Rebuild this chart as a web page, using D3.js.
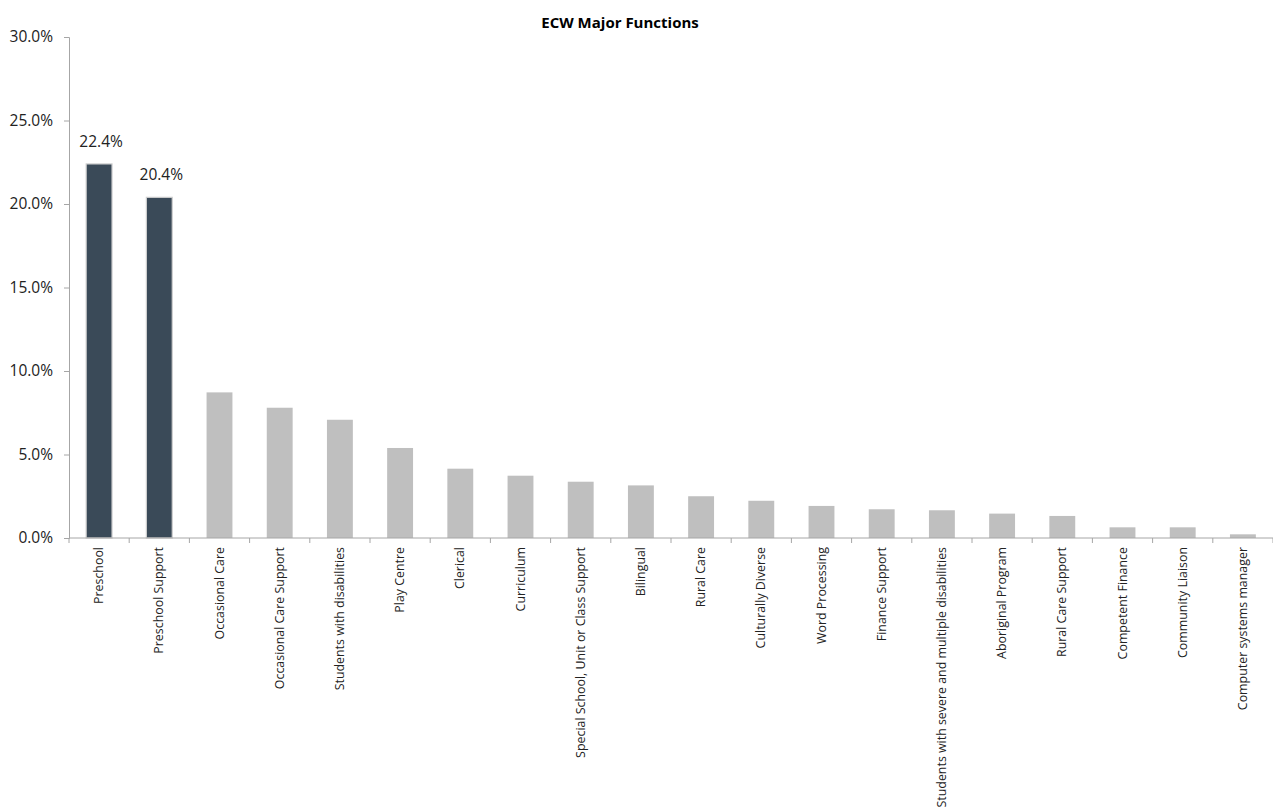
<!DOCTYPE html>
<html><head><meta charset="utf-8">
<script src="https://cdn.jsdelivr.net/npm/d3@7"></script>
<style>body{margin:0;background:#fff;}svg{display:block;font-family:"Open Sans",sans-serif;}</style>
</head><body><svg id="c" width="1273" height="810"></svg>
<script>
const categories = ["Preschool","Preschool Support","Occasional Care","Occasional Care Support","Students with disabilities","Play Centre","Clerical","Curriculum","Special School, Unit or Class Support","Bilingual","Rural Care","Culturally Diverse","Word Processing","Finance Support","Students with severe and multiple disabilities","Aboriginal Program","Rural Care Support","Competent Finance","Community Liaison","Computer systems manager"];
const values = [22.4,20.4,8.72,7.8,7.08,5.39,4.15,3.73,3.37,3.15,2.5,2.23,1.92,1.72,1.66,1.46,1.32,0.64,0.64,0.22];
const highlighted = [true,true,false,false,false,false,false,false,false,false,false,false,false,false,false,false,false,false,false,false];
const yTicks = [0,5,10,15,20,25,30];
const title = "ECW Major Functions";

const svg = d3.select("#c");
const m = {l:69, r:0, t:37, b:272};
const W = 1273, H = 810;
const x = d3.scaleBand().domain(categories).range([m.l, W - m.r]).paddingInner(0.57).paddingOuter(0.285);
const y = d3.scaleLinear().domain([0,30]).range([H - m.b, m.t]);
const axisColor = "#a6a6a6";

svg.append("text").attr("x", 620).attr("y", 28).attr("text-anchor","middle")
  .attr("font-size", 15).attr("font-weight","bold").attr("fill","#000").text(title);

// y axis
const ya = svg.append("g").attr("transform", `translate(${m.l},0)`)
  .call(d3.axisLeft(y).tickValues(yTicks).tickSize(5).tickFormat(d => d.toFixed(1) + "%"));
ya.select(".domain").attr("stroke", axisColor);
ya.selectAll(".tick line").attr("stroke", axisColor);
ya.selectAll(".tick text").attr("font-size", 15.5).attr("fill","#222").attr("font-family","Open Sans").attr("dx", -8);

// bars
svg.selectAll("rect.bar").data(categories).join("rect").attr("class","bar")
  .attr("x", d => x(d)).attr("width", x.bandwidth())
  .attr("y", (d,i) => y(values[i])).attr("height", (d,i) => y(0) - y(values[i]))
  .attr("fill", (d,i) => highlighted[i] ? "#3a4a58" : "#bfbfbf")
  .attr("stroke", (d,i) => highlighted[i] ? "#d0d0d0" : "none")
  .attr("stroke-width", 1.2);

// data labels
svg.selectAll("text.lbl").data(categories.filter((d,i)=>highlighted[i])).join("text").attr("class","lbl")
  .attr("x", d => x(d) + x.bandwidth()/2 + 2)
  .attr("y", d => y(values[categories.indexOf(d)]) - 17)
  .attr("text-anchor","middle").attr("font-size", 15.5).attr("fill","#222")
  .text(d => values[categories.indexOf(d)].toFixed(1) + "%");

// x axis
const xa = svg.append("g").attr("transform", `translate(0,${y(0)})`);
xa.append("line").attr("x1", m.l).attr("x2", W).attr("stroke", axisColor);
const bounds = d3.range(categories.length + 1).map(i => m.l + i * (W - m.l) / categories.length);
xa.selectAll("line.t").data(bounds).join("line").attr("class","t")
  .attr("x1", d => d).attr("x2", d => d).attr("y1", 0).attr("y2", 5).attr("stroke", axisColor);
xa.selectAll("text.cat").data(categories).join("text").attr("class","cat")
  .attr("transform", d => `translate(${x(d) + x.bandwidth()/2 + 4},9) rotate(-90)`)
  .attr("text-anchor","end").attr("font-size", 12.4).attr("fill","#222")
  .text(d => d);
</script></body></html>
